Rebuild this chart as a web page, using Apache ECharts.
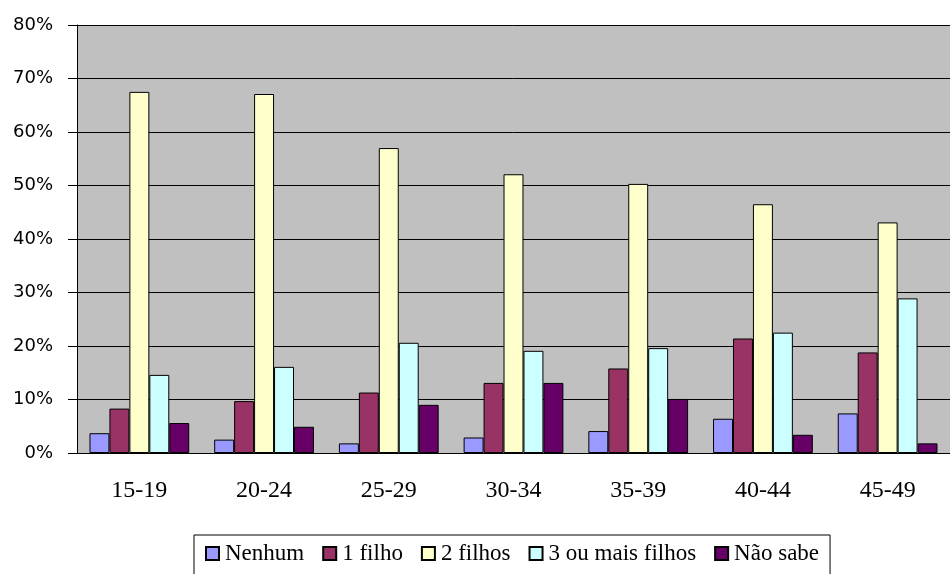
<!DOCTYPE html>
<html>
<head>
<meta charset="utf-8">
<script src="https://cdn.jsdelivr.net/npm/echarts@6/dist/echarts.min.js"></script>
<style>
  html, body { margin: 0; padding: 0; background: #fff; }
  #chart { width: 950px; height: 574px; }
</style>
</head>
<body>
<div id="chart"></div>
<script>
// Age groups on the x axis
const categories = ['15-19', '20-24', '25-29', '30-34', '35-39', '40-44', '45-49'];

// Share of women (%) by desired number of children
const nenhum      = [3.7, 2.5, 1.8, 2.9, 4.1, 6.4, 7.4];
const umFilho     = [8.3, 9.7, 11.3, 13.1, 15.8, 21.4, 18.8];
const doisFilhos  = [67.5, 67.1, 57.0, 52.1, 50.3, 46.5, 43.1];
const tresOuMais  = [14.6, 16.1, 20.6, 19.1, 19.6, 22.5, 28.9];
const naoSabe     = [5.6, 4.9, 9.0, 13.1, 10.1, 3.4, 1.8];

const seriesNames  = ['Nenhum', '1 filho', '2 filhos', '3 ou mais filhos', 'Não sabe'];
const seriesValues = [nenhum, umFilho, doisFilhos, tresOuMais, naoSabe];
const seriesColors = ['#9999ff', '#993366', '#ffffcc', '#ccffff', '#660066'];

const chart = echarts.init(document.getElementById('chart'), null, { renderer: 'canvas' });

chart.setOption({
  animation: false,
  grid: {
    left: 77, right: 0, top: 25, bottom: 121,
    show: true,
    backgroundColor: '#c0c0c0',
    borderWidth: 0
  },
  legend: {
    data: seriesNames,
    left: 194,
    top: 535,
    padding: [7, 11, 30, 11],
    borderColor: '#000',
    borderWidth: 1,
    backgroundColor: '#fff',
    itemWidth: 13,
    itemHeight: 13,
    itemGap: 18,
    icon: 'rect',
    textStyle: {
      fontFamily: 'Liberation Serif',
      fontSize: 23,
      color: '#000',
      padding: [0, 0, 0, 1]
    }
  },
  xAxis: {
    type: 'category',
    data: categories,
    axisLine: { show: true, lineStyle: { color: '#000', width: 1 } },
    axisTick: { show: false },
    axisLabel: {
      margin: 26,
      fontFamily: 'Liberation Serif',
      fontSize: 24,
      color: '#000'
    },
    splitLine: { show: false }
  },
  yAxis: {
    type: 'value',
    min: 0,
    max: 80,
    interval: 10,
    axisLine: { show: true, lineStyle: { color: '#000', width: 1 } },
    axisTick: { show: true, inside: false, length: 9, lineStyle: { color: '#000' } },
    axisLabel: {
      formatter: '{value}%',
      margin: 24,
      fontFamily: 'DejaVu Sans',
      fontSize: 18,
      color: '#000'
    },
    splitLine: { show: true, lineStyle: { color: '#000', width: 1 } }
  },
  series: seriesNames.map((name, i) => ({
    name: name,
    type: 'bar',
    data: seriesValues[i],
    barGap: '0%',
    barCategoryGap: '20%',
    itemStyle: {
      color: seriesColors[i],
      borderColor: '#000',
      borderWidth: 1
    }
  }))
});
</script>
</body>
</html>
